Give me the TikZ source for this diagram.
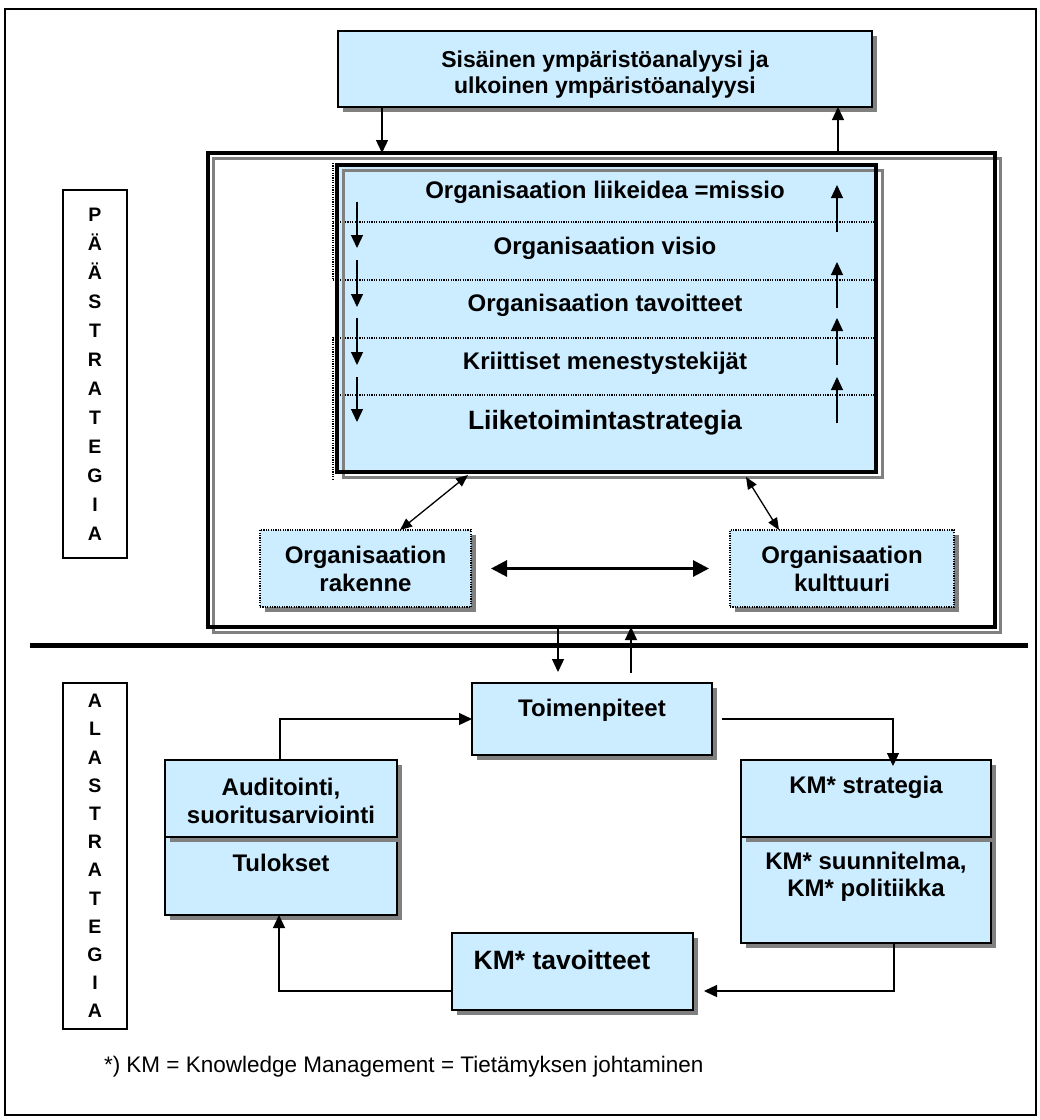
\documentclass[tikz,border=0pt]{standalone}
\usepackage{fontspec}
\setmainfont{Liberation Sans}
\usetikzlibrary{arrows.meta,shadows}
\definecolor{boxblue}{HTML}{CCECFF}
\definecolor{shadowgray}{HTML}{808080}
\begin{document}
\begin{tikzpicture}[x=1pt,y=-1pt,
  every node/.style={inner sep=0pt, outer sep=0pt},
  txt/.style={font=\fontsize{24}{27.5}\selectfont\bfseries, align=center},
  bigtxt/.style={font=\fontsize{26.5}{30}\selectfont\bfseries, align=center},
  vtxt/.style={align=center},
  shadowed/.style={drop shadow={opacity=1, fill=shadowgray, shadow xshift=5pt, shadow yshift=-5pt}},
  bbox/.style={draw=black, line width=1.6pt, fill=boxblue, shadowed},
  dbox/.style={draw=black, line width=1.2pt, dash pattern=on 1.2pt off 1.2pt, fill=boxblue, shadowed},
  dotline/.style={line width=1.2pt, dash pattern=on 1.2pt off 1.2pt},
  ln/.style={line width=1.3pt},
  tip/.style={-{Triangle[length=13pt,width=12pt]}},
  tips/.style={{Triangle[length=12pt,width=10pt]}-{Triangle[length=12pt,width=10pt]}},
  fattips/.style={line width=3pt,{Triangle[length=16pt,width=16pt]}-{Triangle[length=16pt,width=16pt]}},
]
\useasboundingbox (0,0) rectangle (1040,1120);
\fill[white] (0,0) rectangle (1040,1120);
\draw[line width=2pt] (5,9) rectangle (1036,1115);

% environment analysis box
\node[bbox, minimum width=534pt, minimum height=76pt] (env) at (605,69) {};
\node[txt, font=\fontsize{23}{26}\selectfont\bfseries] (envt) at (605,75) {Sisäinen ympäristöanalyysi ja\\ulkoinen ympäristöanalyysi};

% main strategy frame
\node[minimum width=787pt, minimum height=474pt] (frame) at (601.5,390) {};
\draw[shadowgray, line width=3pt] ([shift={(5pt,-5pt)}]frame.north west) rectangle ([shift={(5pt,-5pt)}]frame.south east);
\draw[line width=3.5pt] (frame.north west) rectangle (frame.south east);

% stacked strategy levels
\node[fill=boxblue, minimum width=539pt, minimum height=307pt] (core) at (606.5,318.5) {};
\foreach \yy in {222,280,338,395} \draw[dotline] (333,\yy) -- (876,\yy);
\draw[dotline] (333,163) -- (333,280);
\draw[dotline] (333,337) -- (333,480);
\draw[shadowgray, line width=3pt] ([shift={(6pt,-5pt)}]core.north west) rectangle ([shift={(6pt,-5pt)}]core.south east);
\draw[line width=3.5pt] (core.north west) rectangle (core.south east);

\node[txt] (r1) at (605,192) {Organisaation liikeidea =missio};
\node[txt] (r2) at (605,248) {Organisaation visio};
\node[txt] (r3) at (605,305) {Organisaation tavoitteet};
\node[txt] (r4) at (605,363) {Kriittiset menestystekijät};
\node[bigtxt] (r5) at (605,423) {Liiketoimintastrategia};

\foreach \a/\b in {202/248,260/307,318/365,377/422} \draw[ln,tip] (357,\a) -- (357,\b);
\foreach \a/\b in {232/185,308/262,365/318,423/377} \draw[ln,tip] (837,\a) -- (837,\b);

\draw[ln,tip] ([xshift=44pt]env.south west) -- ([xshift=44pt]env.south west |- frame.north);
\draw[ln,tip] ([xshift=-34pt]env.south east |- frame.north) -- ([xshift=-34pt]env.south east);

% structure and culture
\node[dbox, minimum width=211pt, minimum height=77pt] (rak) at (365.5,568.5) {};
\node[txt] (rakt) at (365.5,569) {Organisaation\\rakenne};
\node[dbox, minimum width=224pt, minimum height=77pt] (kul) at (842,568.5) {};
\node[txt] (kult) at (842,569) {Organisaation\\kulttuuri};

\draw[fattips] ([xshift=20pt]rak.east) -- ([xshift=-21pt]kul.west);
\draw[ln,tips] ([xshift=34.5pt]rak.north) -- ([xshift=-138.5pt,yshift=-3pt]core.south);
\draw[ln,tips] ([xshift=139.5pt,yshift=-5pt]core.south) -- ([xshift=-63pt]kul.north);

% separator between the two levels
\draw[line width=5pt] (30,645) -- (1028,645);

% side labels
\node[draw, line width=1.5pt, minimum width=64pt, minimum height=368pt] (paa) at (95,374) {};
\node[vtxt, font=\fontsize{19.5}{29}\selectfont\bfseries] (paat) at (paa) {P\\Ä\\Ä\\S\\T\\R\\A\\T\\E\\G\\I\\A};
\node[draw, line width=1.5pt, minimum width=64pt, minimum height=346pt] (ala) at (95,856) {};
\node[vtxt, font=\fontsize{19.5}{28.2}\selectfont\bfseries] (alat) at (ala) {A\\L\\A\\S\\T\\R\\A\\T\\E\\G\\I\\A};

% sub-strategy cycle
\node[bbox, minimum width=240pt, minimum height=72pt] (toim) at (592,719) {};
\node[txt] (toimt) at (592,710) {Toimenpiteet};

\node[bbox, minimum width=232pt, minimum height=78pt] (tul) at (281,876) {};
\node[txt] (tult) at (281,863) {Tulokset};
\node[bbox, minimum width=232pt, minimum height=77pt] (aud) at (281,798.5) {};
\node[txt] (audt) at (281,801) {Auditointi,\\suoritusarviointi};

\node[bbox, minimum width=250pt, minimum height=106pt] (kmp) at (866,890) {};
\node[txt] (kmpt) at (866,877) {KM* suunnitelma,\\KM* politiikka};
\node[bbox, minimum width=250pt, minimum height=77pt] (kms) at (866,798.5) {};
\node[txt] (kmst) at (866,787) {KM* strategia};

\node[bbox, minimum width=241pt, minimum height=77pt] (kmt) at (572.5,971.5) {};
\node[bigtxt] (kmtt) at (562,960) {KM* tavoitteet};

\draw[ln,tip] ([xshift=-34pt]toim.north |- frame.south) -- ([xshift=-34pt,yshift=11pt]toim.north);
\draw[ln,tip] ([xshift=39pt,yshift=10pt]toim.north) -- ([xshift=39pt]toim.north |- frame.south);
\draw[ln,tip] ([xshift=-1pt]aud.north) |- (toim.west);
\draw[ln,tip,shorten >=-6pt] ([xshift=10pt]toim.east) -| ([xshift=27pt]kms.north);
\draw[ln,tip] ([xshift=28pt]kmp.south) |- ([xshift=11pt,yshift=-19.5pt]kmt.east);
\draw[ln,tip] ([yshift=-19.5pt]kmt.west) -| ([xshift=-2pt]tul.south);

% footnote
\node[anchor=west, font=\fontsize{22.5}{27}\selectfont] (fn) at (104,1067) {*) KM = Knowledge Management = Tietämyksen johtaminen};
\end{tikzpicture}
\end{document}
